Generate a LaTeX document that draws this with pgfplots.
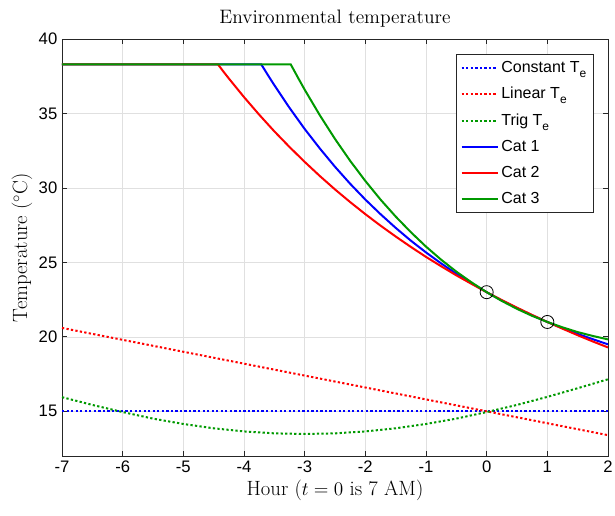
\documentclass[border=0pt]{standalone}
\usepackage{pgfplots}
\pgfplotsset{compat=1.18}
\usepackage{fontspec}
\newfontfamily\arial{Liberation Sans}
\definecolor{mblue}{rgb}{0,0,1}
\definecolor{mred}{rgb}{1,0,0}
\definecolor{mgreen}{rgb}{0,0.6,0}
\definecolor{gridc}{rgb}{0.88,0.88,0.88}
\definecolor{axc}{rgb}{0.15,0.15,0.15}
\newcommand{\sube}{\raisebox{-0.55ex}{\fontsize{9}{9}\selectfont e}}

% environmental temperature models
\pgfplotstableread{
t    T
-7   15
2    15
}\tabconst
\pgfplotstableread{
t    T
-7   20.6
2    13.4
}\tablin
\pgfplotstableread{
t     T
-7    15.95
-6.5  15.43
-6    14.95
-5.5  14.51
-5    14.15
-4.5  13.86
-4    13.65
-3.5  13.52
-3    13.48
-2.5  13.52
-2    13.65
-1.5  13.86
-1    14.15
-0.5  14.51
0     14.95
0.5   15.43
1     15.97
1.5   16.55
2     17.15
}\tabtrig

% body temperature, cat 1 (constant)
\pgfplotstableread{
t      T
-7     38.3
-3.716 38.3
-3.6   37.54
-3.5   36.90
-3.25  35.38
-3     33.96
-2.75  32.65
-2.5   31.42
-2.25  30.28
-2     29.22
-1.75  28.24
-1.5   27.32
-1.25  26.46
-1     25.67
-0.75  24.93
-0.5   24.24
-0.25  23.60
0      23.00
0.25   22.44
0.5    21.93
0.75   21.45
1      21.00
1.25   20.58
1.5    20.20
1.75   19.84
2      19.50
}\catA
% cat 2 (linear)
\pgfplotstableread{
t      T
-7     38.3
-4.43  38.3
-4.35  37.87
-4.25  37.35
-4     36.10
-3.75  34.92
-3.5   33.80
-3.25  32.75
-3     31.75
-2.75  30.80
-2.5   29.90
-2.25  29.05
-2     28.24
-1.75  27.47
-1.5   26.74
-1.25  26.04
-1     25.37
-0.75  24.74
-0.5   24.13
-0.25  23.56
0      23.00
0.25   22.47
0.5    21.96
0.75   21.47
1      21.00
1.25   20.55
1.5    20.11
1.75   19.69
2      19.29
}\catB
% cat 3 (trig)
\pgfplotstableread{
t      T
-7     38.3
-3.23  38.3
-3.1   37.33
-3     36.60
-2.75  34.88
-2.5   33.29
-2.25  31.82
-2     30.47
-1.75  29.22
-1.5   28.08
-1.25  27.03
-1     26.06
-0.75  25.18
-0.5   24.38
-0.25  23.66
0      23.00
0.25   22.41
0.5    21.88
0.75   21.41
1      21.00
1.25   20.64
1.5    20.32
1.75   20.06
2      19.83
}\catC

\begin{document}
\begin{tikzpicture}
\path[use as bounding box] (-46.5pt,-44.25pt) rectangle (414.75pt,342pt);
\begin{axis}[
    at={(0,0)}, anchor=south west,
    scale only axis, width=409.5pt, height=312.75pt,
    xmin=-7, xmax=2, ymin=12, ymax=40,
    xtick={-7,...,2}, ytick={15,20,...,40},
    grid=major, major grid style={gridc, line width=0.5pt},
    axis line style={axc, line width=0.6pt},
    tick style={axc, line width=0.6pt},
    tick align=inside, major tick length=4pt,
    xtick pos=both, ytick pos=both,
    ticklabel style={font=\fontsize{12.5}{14}\arial, /pgf/number format/assume math mode=true},
    title={Environmental temperature},
    title style={font=\fontsize{14.6}{17}\selectfont, yshift=-1pt},
    xlabel={Hour ($t=0$ is 7 AM)},
    ylabel={Temperature ($^\circ$C)},
    label style={font=\fontsize{15.5}{18}\selectfont},
    xlabel style={yshift=1pt},
    ylabel style={yshift=-2pt},
    legend style={at={(1,1)}, anchor=north east, xshift=-11pt, yshift=-11.5pt,
        draw=axc, line width=0.6pt, font=\fontsize{12}{14}\arial,
        cells={anchor=west}, row sep=5.6pt, inner sep=3pt},
    legend image code/.code={\draw[#1] (0pt,0pt) -- (27pt,0pt);},
]
\addplot[color=mblue, line width=1.5pt, dash pattern=on 1.7pt off 1.7pt] table[x=t,y=T] {\tabconst};
\addlegendentry{Constant T\sube}
\addplot[color=mred, line width=1.5pt, dash pattern=on 1.7pt off 1.7pt] table[x=t,y=T] {\tablin};
\addlegendentry{Linear T\sube}
\addplot[color=mgreen, line width=1.5pt, dash pattern=on 1.7pt off 1.7pt] table[x=t,y=T] {\tabtrig};
\addlegendentry{Trig T\sube}
\addplot[color=mblue, line width=1.5pt] table[x=t,y=T] {\catA};
\addlegendentry{Cat 1}
\addplot[color=mred, line width=1.5pt] table[x=t,y=T] {\catB};
\addlegendentry{Cat 2}
\addplot[color=mgreen, line width=1.5pt] table[x=t,y=T] {\catC};
\addlegendentry{Cat 3}
\addplot[only marks, mark=o, mark size=4.9pt, black, mark options={line width=0.6pt}, forget plot] coordinates {(0,23) (1,21)};
\end{axis}
\end{tikzpicture}
\end{document}
